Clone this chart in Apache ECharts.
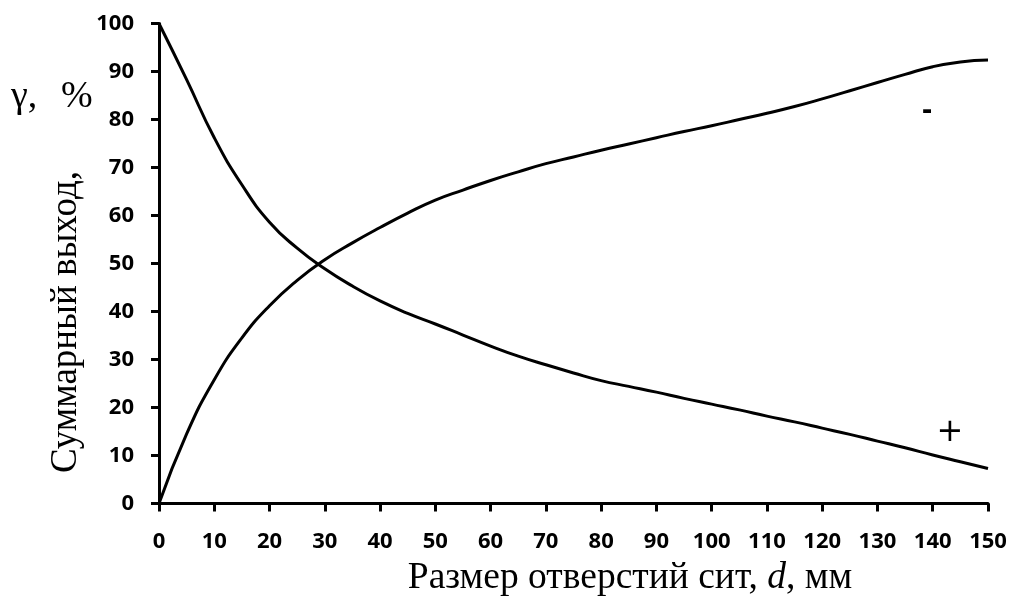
<!DOCTYPE html>
<html>
<head>
<meta charset="utf-8">
<script src="https://cdn.jsdelivr.net/npm/echarts@6/dist/echarts.min.js"></script>
<style>html,body{margin:0;padding:0;background:#fff}#c{width:1012px;height:601px}</style>
</head>
<body>
<div id="c"></div>
<script>
const sizes = [0, 5, 10, 15, 20, 25, 30, 35, 40, 45, 50, 55, 60, 65, 70, 75, 80, 85, 90, 95, 100, 105, 110, 115, 120, 125, 130, 135, 140, 145, 150];
const oversize = [100, 88.3, 76.2, 66.4, 58.6, 53.2, 48.9, 45.3, 42.2, 39.6, 37.4, 35.1, 32.8, 30.7, 28.9, 27.2, 25.6, 24.4, 23.2, 21.9, 20.7, 19.5, 18.2, 17.0, 15.7, 14.4, 13.0, 11.6, 10.1, 8.7, 7.3];
const undersize = [0, 14.5, 25.8, 34.5, 41.2, 46.5, 50.8, 54.3, 57.5, 60.5, 63.2, 65.3, 67.3, 69.1, 70.8, 72.2, 73.6, 74.9, 76.2, 77.5, 78.7, 80.0, 81.3, 82.7, 84.3, 86.0, 87.7, 89.4, 91.0, 92.0, 92.4];
const xTicks = [0, 10, 20, 30, 40, 50, 60, 70, 80, 90, 100, 110, 120, 130, 140, 150];
const yTicks = [0, 10, 20, 30, 40, 50, 60, 70, 80, 90, 100];
const xTitle = 'Размер отверстий сит, ';
const yTitle = 'Суммарный выход,';

const chart = echarts.init(document.getElementById('c'), null, {renderer: 'canvas'});
const labelFont = {fontFamily: 'Open Sans', fontWeight: 'bold', fontSize: 22, color: '#000'};
chart.setOption({
  animation: false,
  backgroundColor: '#fff',
  grid: {left: 159, right: 24, top: 23.5, bottom: 97.5},
  xAxis: {
    type: 'value', min: xTicks[0], max: xTicks[xTicks.length - 1], interval: 10,
    axisLine: {lineStyle: {color: '#000', width: 3}},
    axisTick: {show: true, length: 8, lineStyle: {color: '#000', width: 3}},
    splitLine: {show: false},
    axisLabel: Object.assign({margin: 27}, labelFont)
  },
  yAxis: {
    type: 'value', min: yTicks[0], max: yTicks[yTicks.length - 1], interval: 10,
    axisLine: {show: true, lineStyle: {color: '#000', width: 3}},
    axisTick: {show: true, length: 8, lineStyle: {color: '#000', width: 3}},
    splitLine: {show: false},
    axisLabel: Object.assign({margin: 25}, labelFont)
  },
  series: [
    {type: 'line', data: sizes.map((x, i) => [x, oversize[i]]), smooth: 0.5, showSymbol: false,
     lineStyle: {color: '#000', width: 3}},
    {type: 'line', data: sizes.map((x, i) => [x, undersize[i]]), smooth: 0.5, showSymbol: false,
     lineStyle: {color: '#000', width: 3}}
  ],
  graphic: [
    {type: 'text', left: 11, top: 78, style: {text: 'γ,', font: '38px "Liberation Serif"', fill: '#000'}},
    {type: 'text', left: 61, top: 78, style: {text: '%', font: '38px "Liberation Serif"', fill: '#000'}},
    {type: 'text', x: 66, y: 322, rotation: Math.PI / 2,
     style: {text: yTitle, font: '37px "Liberation Serif"', fill: '#000', align: 'center', verticalAlign: 'middle'}},
    {type: 'text', x: 630, y: 578,
     style: {rich: {n: {font: '37.5px "Liberation Serif"'}, i: {font: 'italic 37.5px "Liberation Serif"'}},
             text: '{n|' + xTitle + '}{i|d}{n|, мм}', fill: '#000', align: 'center', verticalAlign: 'middle'}},
    {type: 'text', x: 927, y: 110, style: {text: '-', font: 'bold 30px "Open Sans"', fill: '#000', align: 'center', verticalAlign: 'middle'}},
    {type: 'text', x: 950, y: 433, style: {text: '+', font: '32px "DejaVu Sans"', fill: '#000', align: 'center', verticalAlign: 'middle'}}
  ]
});
</script>
</body>
</html>
